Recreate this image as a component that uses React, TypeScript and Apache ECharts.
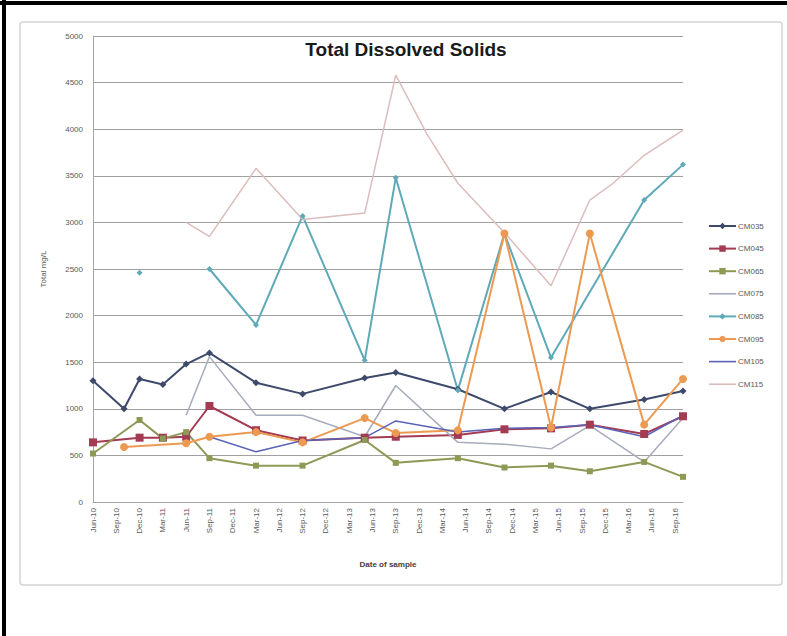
import React, { useEffect, useRef } from 'react';
import * as echarts from 'echarts';

// Sampling dates (year-month) shared by all stations
const sampleDates = [
  '2010-06', '2010-10', '2010-12', '2011-03', '2011-06', '2011-09',
  '2012-03', '2012-09', '2013-05', '2013-09', '2014-01', '2014-05',
  '2014-11', '2015-05', '2015-10', '2016-01', '2016-05', '2016-10',
];

// Total dissolved solids (mg/L); null = not sampled, '-' = break in the line
const cm035 = [1300, 1000, 1320, 1260, 1480, 1600, 1280, 1160, 1330, 1390, null, 1210, 1000, 1180, 1000, null, 1100, 1190];
const cm045 = [640, null, 690, 690, 700, 1030, 770, 660, 690, 700, null, 720, 780, 790, 830, null, 730, 920];
const cm065 = [520, null, 880, 680, 750, 470, 390, 390, 665, 420, null, 470, 370, 390, 330, null, 430, 270];
const cm075 = [null, null, null, null, 930, 1560, 930, 930, 700, 1250, null, 640, 620, 570, 820, null, 430, 900];
const cm085 = [null, null, 2460, '-', null, 2500, 1900, 3070, 1520, 3480, null, 1200, 2880, 1550, null, null, 3240, 3620];
const cm095 = [null, 590, null, null, 630, 700, 750, 640, 900, 740, null, 770, 2880, 800, 2880, null, 830, 1320];
const cm105 = [null, null, null, null, null, 700, 540, 660, 690, 870, null, 750, 790, 800, 830, null, 700, 930];
const cm115 = [null, null, null, null, 3000, 2850, 3580, 3030, 3100, 4580, 3950, 3420, 2890, 2320, 3240, 3420, 3720, 3990];

const stationNames = ['CM035', 'CM045', 'CM065', 'CM075', 'CM085', 'CM095', 'CM105', 'CM115'];
const stationValues = [cm035, cm045, cm065, cm075, cm085, cm095, cm105, cm115];

const monthNames = ['Jan', 'Feb', 'Mar', 'Apr', 'May', 'Jun', 'Jul', 'Aug', 'Sep', 'Oct', 'Nov', 'Dec'];

// Month count used as the x value: year * 12 + month (1-based), so quarter-end months divide by 3
const monthValue = (d: string) => {
  const [y, m] = d.split('-').map(Number);
  return y * 12 + m;
};

const axisStart = monthValue('2010-06');
const axisEnd = monthValue('2016-10');

const formatMonth = (v: number) => {
  if (v % 3 !== 0) return '';
  const y = Math.floor((v - 1) / 12);
  const m = v - y * 12;
  return `${monthNames[m - 1]}-${String(y).slice(2)}`;
};

// Plain line used as the legend key for series drawn without markers
const plainLineIcon = 'path://M0,0 H27 V1.6 H0 Z';

const seriesStyles = [
  { color: '#3e4a6b', symbol: 'diamond', size: 7, width: 2 },
  { color: '#a33b52', symbol: 'rect', size: 8, width: 2 },
  { color: '#8c9a55', symbol: 'rect', size: 6, width: 2 },
  { color: '#a7acbc', symbol: 'none', size: 0, width: 1.5 },
  { color: '#5fa9b8', symbol: 'diamond', size: 6, width: 2 },
  { color: '#ec9a52', symbol: 'circle', size: 8, width: 2 },
  { color: '#5a63b8', symbol: 'none', size: 0, width: 1.5 },
  { color: '#dcbcbc', symbol: 'none', size: 0, width: 1.5 },
];

const toPoints = (vals: (number | string | null)[]) =>
  vals
    .map((v, i) => (v === null ? null : [monthValue(sampleDates[i]), v]))
    .filter((p) => p !== null);

export default function App() {
  const ref = useRef<HTMLDivElement>(null);

  useEffect(() => {
    if (!ref.current) return;
    const chart = echarts.init(ref.current, null, { renderer: 'svg' });
    const font = '"Liberation Sans", Arial, sans-serif';

    chart.setOption({
      animation: false,
      backgroundColor: '#ffffff',
      textStyle: { fontFamily: font },
      title: {
        text: 'Total Dissolved Solids',
        left: 401,
        textAlign: 'center',
        top: 35,
        textStyle: { fontSize: 19, fontWeight: 'bold', color: '#1a1a1a', fontFamily: font },
      },
      graphic: [
        {
          type: 'rect',
          shape: { x: 20, y: 22, width: 762, height: 563, r: 3 },
          style: { fill: 'none', stroke: '#d4d4d4', lineWidth: 1.5 },
          silent: true,
        },
        {
          type: 'line',
          shape: { x1: 0, y1: 3, x2: 787, y2: 3 },
          style: { stroke: '#000000', lineWidth: 4 },
          silent: true,
        },
        {
          type: 'line',
          shape: { x1: 4, y1: 0, x2: 4, y2: 636 },
          style: { stroke: '#000000', lineWidth: 4 },
          silent: true,
        },
      ],
      legend: {
        orient: 'vertical',
        left: 703,
        top: 217,
        itemWidth: 27,
        itemHeight: 8,
        itemGap: 14.6,
        textStyle: { fontSize: 8, color: '#595959', fontFamily: font, padding: [0, 0, 0, -3] },
        data: stationNames.map((name, i) =>
          seriesStyles[i].symbol === 'none' ? { name, icon: plainLineIcon } : { name }
        ),
      },
      grid: { left: 93, top: 36, width: 590, height: 466 },
      xAxis: {
        type: 'value',
        min: axisStart,
        max: axisEnd,
        interval: 3,
        name: 'Date of sample',
        nameLocation: 'middle',
        nameGap: 58,
        nameTextStyle: { fontSize: 8, color: '#404040', fontWeight: 'bold' },
        axisLine: { show: true, lineStyle: { color: '#a6a6a6' } },
        axisTick: { show: false },
        splitLine: { show: false },
        axisLabel: {
          rotate: 90,
          fontSize: 8,
          color: '#595959',
          margin: 6,
          formatter: (v: number) => formatMonth(v),
        },
      },
      yAxis: {
        type: 'value',
        min: 0,
        max: 5000,
        interval: 500,
        name: 'Total mg/L',
        nameLocation: 'middle',
        nameGap: 46,
        nameTextStyle: { fontSize: 8, color: '#595959' },
        axisLine: { show: true, lineStyle: { color: '#a6a6a6' } },
        axisTick: { show: false },
        splitLine: { lineStyle: { color: '#a0a0a0', width: 1 } },
        axisLabel: { fontSize: 8, color: '#595959', margin: 10, formatter: (v: number) => String(v) },
      },
      series: stationNames.map((name, i) => {
        const st = seriesStyles[i];
        return {
          name,
          type: 'line',
          data: toPoints(stationValues[i]),
          connectNulls: false,
          symbol: st.symbol,
          symbolSize: st.size,
          showSymbol: st.symbol !== 'none',
          itemStyle: { color: st.color },
          lineStyle: { color: st.color, width: st.width },
          emphasis: { disabled: true },
        };
      }),
    });

    return () => chart.dispose();
  }, []);

  return (
    <div style={{ position: 'fixed', left: 0, top: 0, width: 787, height: 636, background: '#fff' }}>
      <div ref={ref} style={{ width: 787, height: 636 }} />
    </div>
  );
}
